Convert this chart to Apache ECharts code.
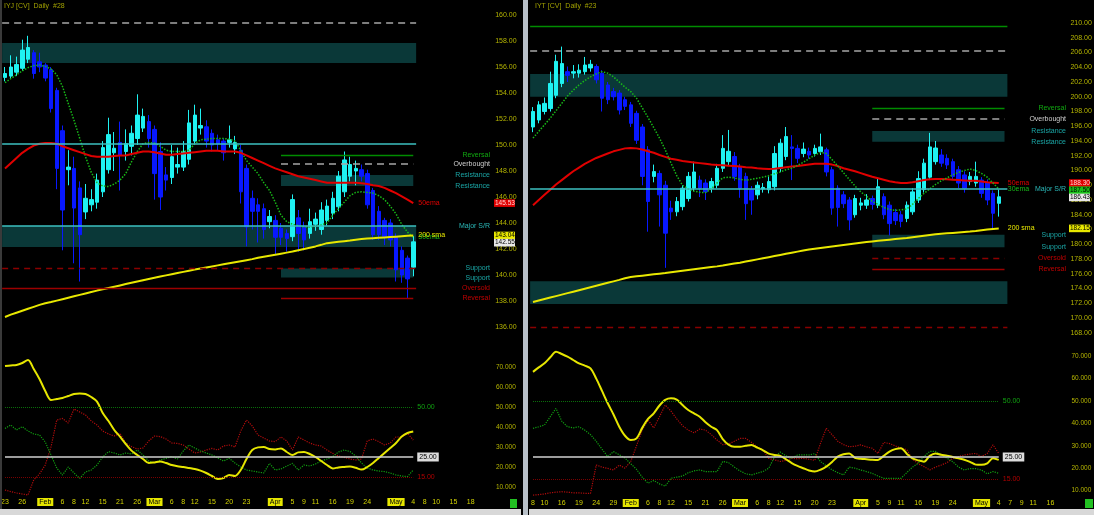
<!DOCTYPE html>
<html><head><meta charset="utf-8">
<script src="https://cdn.jsdelivr.net/npm/echarts/dist/echarts.min.js"></script>
<style>html,body{margin:0;padding:0;background:#000;overflow:hidden}#c{width:1094px;height:515px}</style>
</head><body><div id="c"></div>
<script>
// ---------------- DATA ----------------
const leftTitle = 'IYJ [CV]  Daily  #28';
const rightTitle = 'IYT [CV]  Daily  #23';

const leftDates = ['01-23','01-24','01-25','01-26','01-29','01-30','01-31',
'02-01','02-02','02-05','02-06','02-07','02-08','02-09','02-12','02-13','02-14','02-15','02-16','02-20','02-21','02-22','02-23','02-26','02-27','02-28',
'03-01','03-02','03-05','03-06','03-07','03-08','03-09','03-12','03-13','03-14','03-15','03-16','03-19','03-20','03-21','03-22','03-23','03-26','03-27','03-28','03-29',
'04-02','04-03','04-04','04-05','04-06','04-09','04-10','04-11','04-12','04-13','04-16','04-17','04-18','04-19','04-20','04-23','04-24','04-25','04-26','04-27','04-30',
'05-01','05-02','05-03','05-04'];
const leftFutureDates = ['05-07','05-08','05-09','05-10','05-11','05-14','05-15','05-16','05-17','05-18','05-21','05-22','05-23','05-24','05-25','05-29','05-30'];
const rightEarlyDates = ['01-08','01-09','01-10','01-11','01-12','01-16','01-17','01-18','01-19','01-22'];
const rightFutureDates = ['05-07','05-08','05-09','05-10','05-11','05-14','05-15','05-16','05-17','05-18','05-21','05-22','05-23'];

const leftTickDates = ['01-23','01-26','02-01','02-06','02-08','02-12','02-15','02-21','02-26','03-01','03-06','03-08','03-12','03-15','03-20','03-23','04-02','04-05','04-09','04-11','04-16','04-19','04-24','05-01','05-04','05-08','05-10','05-15','05-18'];
const rightTickDates = ['01-08','01-10','01-16','01-19','01-24','01-29','02-01','02-06','02-08','02-12','02-15','02-21','02-26','03-01','03-06','03-08','03-12','03-15','03-20','03-23','04-02','04-05','04-09','04-11','04-16','04-19','04-24','05-01','05-04','05-08','05-10','05-14','05-17'];
const rightTickText = {'05-08':'7','05-10':'9','05-14':'11','05-17':'16'};
const monthTickNames = {'02-01':'Feb','03-01':'Mar','04-02':'Apr','05-01':'May'};

// OHLC rows: [open, high, low, close]
const leftOHLC = [
[155.2,156.0,154.9,155.5],[155.3,156.9,155.1,156.0],[155.6,156.8,155.3,156.2],[155.9,158.1,155.7,157.3],[156.6,158.4,156.3,157.5],
[157.1,157.3,155.1,155.5],[156.4,157.1,155.6,156.0],[156.15,156.3,154.9,155.15],[155.8,156.0,152.5,152.8],[154.2,154.4,146.6,148.2],
[151.1,151.5,141.9,145.0],[148.1,149.6,146.9,148.3],[148.2,149.1,140.9,145.15],[146.7,147.2,139.5,143.1],[144.85,147.0,144.3,145.9],
[145.4,146.6,144.9,145.8],[145.6,147.8,145.1,147.3],[146.4,150.3,146.0,149.8],[148.1,152.1,147.8,150.8],[149.4,151.0,148.0,149.75],
[150.2,151.8,146.5,149.2],[149.5,151.2,148.8,150.1],[149.9,151.5,149.2,150.9],[150.5,153.9,150.0,152.3],[151.3,152.8,151.0,152.2],
[151.8,152.3,149.8,150.5],[151.2,151.5,145.8,147.8],[149.5,150.2,145.0,146.0],[147.7,148.3,146.5,147.3],[147.5,150.0,147.0,149.1],
[148.3,149.8,147.8,148.5],[148.3,150.3,148.0,149.5],[148.9,152.7,148.5,151.7],[150.3,153.1,150.0,152.3],[151.3,152.8,150.8,151.5],
[151.4,151.9,149.8,150.3],[150.9,151.2,149.5,150.0],[150.4,150.8,149.6,150.1],[150.3,150.5,148.8,149.4],[150.2,151.5,149.8,150.4],
[149.7,150.7,149.3,150.2],[149.6,150.0,145.5,146.4],[148.2,148.5,142.2,143.7],[145.9,146.5,143.5,144.9],[145.4,145.9,142.5,144.9],
[145.1,145.5,142.8,143.5],[144.1,145.0,143.6,144.5],[144.2,144.6,141.6,142.9],[143.6,144.0,142.3,142.9],[143.2,143.5,141.8,142.8],
[142.95,146.2,142.6,145.8],[144.4,145.0,141.8,143.2],[143.7,144.1,141.9,142.7],[143.2,145.1,142.8,144.1],[143.9,144.8,143.4,144.3],
[143.5,145.6,143.1,145.0],[144.2,145.8,143.8,145.3],[144.75,146.4,144.3,145.9],[145.25,148.0,144.9,147.6],[146.4,149.5,146.0,148.85],
[147.6,149.1,147.2,148.5],[148.0,148.8,146.9,148.2],[148.1,148.5,147.2,147.6],[147.8,148.1,145.1,145.4],[146.5,146.7,142.7,143.1],
[144.9,145.3,142.7,143.1],[144.2,144.4,142.3,142.95],[144.0,144.3,142.2,142.7],[142.9,143.2,139.5,140.4],[141.9,142.2,139.4,140.0],
[141.3,141.5,138.2,139.7],[140.6,143.0,139.9,142.55]];

const leftEma50 = [148.2,148.6,149.0,149.4,149.7,149.95,150.1,150.15,150.15,150.1,
149.9,149.75,149.6,149.45,149.3,149.15,149.1,149.1,149.1,149.15,
149.2,149.2,149.3,149.4,149.5,149.5,149.45,149.35,149.25,149.25,
149.3,149.35,149.4,149.45,149.5,149.55,149.55,149.55,149.5,149.5,
149.5,149.4,149.2,149.0,148.8,148.6,148.4,148.2,148.05,147.9,
147.75,147.6,147.5,147.4,147.3,147.2,147.1,147.1,147.1,147.1,
147.1,147.1,147.05,147.0,146.9,146.85,146.7,146.5,146.3,146.05,
145.8,145.53];
const leftEma30 = [154.8,155.1,155.4,155.7,155.95,156.1,156.15,156.05,155.85,155.4,
154.5,153.2,151.9,150.5,149.1,147.9,147.1,146.85,146.8,147.0,
147.3,147.8,148.7,149.5,150.1,150.2,150.15,149.9,149.6,149.5,
149.5,149.5,149.6,150.1,150.4,150.45,150.5,150.5,150.5,150.45,
150.3,149.6,148.8,148.3,147.8,147.1,146.5,145.6,144.6,144.1,
143.9,143.8,143.7,143.7,143.75,143.85,144.0,144.6,145.1,145.6,
146.1,146.35,146.4,146.35,146.3,146.1,145.8,145.3,144.7,143.9,
143.3,142.9];
const leftSma200 = [136.77,136.95,137.1,137.25,137.4,137.55,137.7,137.82,137.92,138.03,
138.14,138.25,138.36,138.47,138.58,138.69,138.8,138.9,139.0,139.1,
139.2,139.3,139.4,139.5,139.6,139.7,139.79,139.88,139.97,140.06,
140.15,140.24,140.33,140.42,140.5,140.58,140.66,140.74,140.82,140.9,
140.98,141.06,141.14,141.22,141.32,141.4,141.48,141.56,141.64,141.72,
141.8,141.9,142.0,142.1,142.2,142.32,142.45,142.5,142.55,142.6,
142.65,142.72,142.76,142.8,142.83,142.86,142.89,142.92,142.95,142.98,
143.01,143.04];

const leftAdx = [70.5,70.8,71,72,73.5,69,64,58,53.5,54,
54.5,55.5,56.5,56.8,56.5,55,52.7,47,43,38.5,
35.2,31.5,28.2,26,24,22,22.3,22.7,22,21,
20.4,20,19.5,19,18.2,17,15.5,14,14.5,16,
15.5,18.5,24,28.5,29.8,30,29,28.8,29.3,27.5,
26,27.3,27.5,26.5,25,23,21,19.3,19.8,20,
20.2,19.6,18.7,20,22,24.5,27,29.5,32,35.2,
37,37.7];
const leftPlusDI = [39.3,41,38.5,40.2,38,36.5,36,32.5,26,19.5,
16,20,17,14.3,17.5,18.5,21,25,27.7,27,
26,27,26.5,28.5,26,23,22,23.5,24.3,25.2,
24,28,31,29.5,28,27,26,24.5,23,24.3,
22,20,18.5,18,17.5,17,21.8,18.5,19,20.5,
21.8,18.5,21,20.5,21.5,23,24,25.2,27.5,28.5,
27.7,25.5,22,19.5,18.5,18,17.7,17,16,15.5,
15.2,18.5];
const leftMinusDI = [8.5,7.7,7,6.5,6,13.5,16.5,21,30,43.5,
44.3,42,49,47.5,46,43,41,38,36.5,35.5,
36.8,32,30.2,29,29.5,33,35.5,35.2,34,32,
31.8,31,29,27,27.5,28.5,29.3,28.5,30.5,31,
30,38,43.5,40.5,36,34.5,33,32.7,35,33,
28.5,35,33.5,32,31,30.5,28.5,26.8,25.5,24.8,
24,23.5,24,33,34,32.7,31,32,35,35,
36.8,33.5];

const rightOHLC = [
[195.9,198.6,195.2,198.0],[196.85,199.4,196.4,198.9],[198.0,199.9,197.6,199.1],[198.4,203.4,198.0,201.8],[200.2,205.7,199.8,204.8],
[201.8,206.8,201.3,204.5],[203.4,204.1,202.0,202.9],[203.2,204.3,202.5,203.4],[203.2,204.4,202.6,203.6],[203.4,205.4,203.0,204.3],
[203.9,205.0,203.4,204.4],[204.1,204.4,201.8,202.3],[203.2,203.6,198.0,199.8],[201.6,202.0,199.0,199.6],[200.7,201.2,199.5,200.0],
[200.5,200.9,197.6,198.2],[199.6,200.0,198.2,198.7],[198.9,199.3,195.9,196.4],[197.75,198.1,193.6,194.1],[195.9,196.3,188.0,189.2],
[192.8,193.3,181.7,185.8],[189.2,190.8,188.4,189.85],[189.6,190.0,182.4,186.7],[188.0,188.6,176.8,181.5],[184.9,185.9,183.3,184.4],
[184.4,186.4,183.8,185.8],[185.1,188.0,184.6,187.6],[186.2,189.8,185.8,189.2],[187.6,191.2,187.2,189.8],[188.7,189.3,186.4,187.6],
[188.3,188.8,186.0,187.1],[187.6,189.0,187.0,188.5],[188.0,190.9,187.6,190.3],[190.3,194.8,189.8,193.0],[191.2,195.5,190.6,192.6],
[191.9,192.5,188.6,189.2],[190.5,190.9,186.3,187.6],[189.2,189.7,183.3,185.5],[187.4,187.9,184.0,186.0],[186.7,188.5,186.1,188.0],
[187.5,188.3,187.0,187.7],[187.4,189.2,186.9,188.5],[187.8,193.3,187.3,192.3],[190.3,194.3,189.8,193.7],[191.9,195.9,191.4,194.6],
[193.2,194.8,188.7,193.0],[193.0,193.5,191.0,191.65],[192.3,193.8,191.8,192.9],[192.6,193.1,191.6,192.1],[192.3,193.5,191.9,193.0],
[192.55,195.0,192.1,193.2],[192.8,193.1,189.2,189.8],[190.1,190.5,184.0,184.9],[187.6,188.0,182.4,185.0],[186.7,187.2,184.9,185.5],
[186.0,186.4,181.9,183.3],[184.0,186.7,183.6,186.2],[185.3,186.3,184.6,185.6],[185.3,186.8,184.8,186.0],[186.2,186.6,184.7,185.4],
[185.3,188.9,184.9,187.8],[186.45,186.9,183.4,184.0],[185.3,185.8,181.2,182.8],[184.3,184.8,182.6,183.2],[184.0,184.5,182.3,183.1],
[183.5,185.8,183.0,185.3],[184.4,187.6,184.0,187.1],[186.0,189.9,185.6,188.9],[187.4,191.6,187.0,191.0],[189.1,195.1,188.7,193.2],
[191.2,194.0,190.8,193.05],[192.1,192.9,190.5,191.0],[191.65,192.2,190.2,190.75],[191.2,191.6,188.7,189.2],[190.1,190.6,187.6,188.3],
[189.4,189.9,187.0,187.6],[188.5,189.8,188.0,189.2],[188.3,191.2,187.8,189.2],[188.7,189.1,186.3,186.9],[188.3,188.8,185.3,186.0],
[186.9,187.3,182.2,184.2],[185.55,187.4,183.75,186.43]];

const rightEma50 = [185.3,186.0,186.7,187.4,188.1,188.7,189.3,189.9,190.4,190.9,
191.3,191.7,192.0,192.3,192.6,192.8,193.0,193.05,193.0,192.85,
192.6,192.4,192.1,191.85,191.6,191.45,191.3,191.2,191.1,191.0,
190.9,190.8,190.75,190.7,190.65,190.6,190.55,190.45,190.4,190.3,
190.25,190.2,190.25,190.35,190.45,190.55,190.6,190.7,190.8,190.9,
190.9,190.9,190.8,190.6,190.3,190.1,189.9,189.65,189.4,189.15,
188.95,188.75,188.55,188.4,188.3,188.3,188.4,188.55,188.7,188.8,
188.85,188.85,188.8,188.75,188.7,188.65,188.6,188.6,188.5,188.4,
188.35,188.3];
const rightEma30 = [194.4,195.3,196.2,197.1,198.1,199.1,200.1,200.9,201.6,202.2,
202.7,203.1,203.4,203.2,202.7,202.0,201.3,200.7,199.8,198.5,
197.2,195.8,194.4,192.8,191.0,189.3,188.0,187.5,187.2,187.05,
187.0,187.5,188.3,189.0,189.1,189.0,188.8,188.7,188.8,188.95,
189.1,189.3,189.55,189.8,190.1,190.3,190.7,191.1,191.6,192.1,
192.45,192.3,191.5,190.6,189.7,188.8,187.9,187.1,186.5,185.8,
185.4,185.0,184.7,184.6,184.65,184.8,185.4,186.2,186.9,187.5,
188.1,188.6,189.0,189.4,189.75,190.0,190.2,190.0,189.6,189.1,
188.3,187.5];
const rightSma200 = [172.17,172.37,172.57,172.77,172.97,173.17,173.37,173.57,173.77,173.97,
174.17,174.37,174.57,174.77,174.97,175.17,175.4,175.56,175.65,175.74,
175.83,175.92,176.01,176.1,176.2,176.3,176.4,176.5,176.6,176.7,
176.8,176.9,177.0,177.12,177.25,177.38,177.5,177.65,177.8,177.95,
178.1,178.25,178.4,178.55,178.7,178.85,179.0,179.15,179.3,179.4,
179.5,179.6,179.7,179.8,179.9,180.0,180.1,180.2,180.3,180.38,
180.46,180.54,180.62,180.7,180.78,180.85,180.95,181.05,181.15,181.25,
181.35,181.42,181.48,181.54,181.6,181.66,181.72,181.8,181.9,182.0,
182.08,182.15];

const rightAdx = [63,65,66.8,69.5,72,71,69.8,68.3,66.8,65.8,
64.6,60,54.5,49,44,38.5,34.5,32.6,33.3,38,
42,44.5,48,50.5,51.2,50.6,48.2,46,44.5,43,
40.5,38.5,37,33,30.5,29.6,29.6,30,30.4,29.2,
28,26.5,25.9,25.5,24,22.3,21,20,19,18.5,
19.3,20.7,22.8,25.2,26.2,26.6,24.6,24.2,24,23.8,
23.7,25.5,27.4,28.5,28.9,26.5,24.4,23.5,22.9,25.5,
26.6,26,25.6,25,24.4,23.8,22.8,21.6,21.5,22.2,
24.4,23.7];
const rightPlusDI = [37.8,38.5,39.3,43,46.7,41,38.5,38,38.5,37,
35,32,28.5,25.2,27.4,26,24.5,22,19.5,16,
13.3,14.5,13,12,15.5,16,16.5,18,18.8,19.2,
18.5,18.5,18.5,23,22.5,20.5,18.8,17.5,17,17.8,
18.5,20,25,27.2,25.5,24.4,25.9,26,25.9,26.5,
23,21,19.3,18,17,20.5,20,19.2,18.5,17.7,
16.5,15.5,15.5,15.5,15.5,18,20.5,22.2,25.2,27.5,
27.5,25.9,24.5,22.9,20.5,19.2,19.8,19.8,19.2,17.5,
18.5,17.7];
const rightMinusDI = [8,8.2,8.5,9,9.3,9.5,9.3,9,9,8.8,
8.8,21.4,20.5,19.9,19.2,21.4,20,23,30,37,
41.5,38,43,48.2,45.5,42,39,37,35.8,37.5,
37,35,32.6,30.5,30.8,32,33.3,33.3,31.5,29.5,
28,24.4,23.7,23,23.5,24.4,24.2,24.4,24,23.5,
31.1,37.8,35,32,30.5,29.6,29.8,30.4,29.5,28.9,
26.6,31.5,31,30,28.9,28.3,24,22,20.7,19.2,
20.5,21.4,22.5,24.4,25.2,25.9,26.3,26.6,25.2,26.6,
30.4,26.6];

// horizontal levels (prices)
const leftFullBands = [[157.85,156.3],[143.77,142.15]];
const leftShortBands = [[147.7,146.85],[140.5,139.8]];
const leftGrayDashFull = [159.4];
const leftCyanFull = [150.08,143.77];
const leftRedDashFull = [140.54];
const leftRedSolidFull = [139.0];
const leftGreenShort = [149.23];
const leftGrayDashShort = [148.54];
const leftRedSolidShort = [138.2];
const leftLevelLabels = [['Reversal',149.23,'up'],['Overbought',148.54,'ob'],['Resistance',147.7,'sr'],['Resistance',146.85,'sr'],['Major S/R',143.77,'major'],['Support',140.5,'sr'],['Support',139.8,'sr'],['Oversold',139.0,'dn'],['Reversal',138.2,'dn']];

const rightFullBands = [[203.1,200.0],[175.0,171.9]];
const rightShortBands = [[195.35,193.9],[181.3,179.6]];
const rightGreenFull = [209.5];
const rightGrayDashFull = [206.2];
const rightCyanFull = [187.5];
const rightRedDashFull = [168.8];
const rightGreenShort = [198.5];
const rightGrayDashShort = [197.0];
const rightRedDashShort = [178.1];
const rightRedSolidShort = [176.6];
const rightLevelLabels = [['Reversal',198.5,'up'],['Overbought',197.0,'ob'],['Resistance',195.35,'sr'],['Resistance',193.9,'sr'],['Major S/R',187.5,'major'],['Support',181.3,'sr'],['Support',179.6,'sr'],['Oversold',178.1,'dn'],['Reversal',176.6,'dn']];

const indicatorLevels = [50, 25, 15];
const indicatorLevelText = ['50.00','25.00','15.00'];

// ---------------- BUILD ----------------
const FONT = 'Liberation Sans, DejaVu Sans, sans-serif';
const SLOT = 5.75;
const L0 = 5 - SLOT/2, R0 = 533 - SLOT/2;
const leftAllDates = leftDates.concat(leftFutureDates);
const rightDates = rightEarlyDates.concat(leftDates);
const rightMainDates = rightDates.concat(rightFutureDates.slice(0,1));
const rightAllDates = rightDates.concat(rightFutureDates);

const S = {
  grayDash:{color:'#a6a6a6',width:1.5,type:[7,5]},
  cyan:{color:'#3cc0c0',width:1.5,type:'solid'},
  redDash:{color:'#8a0000',width:1.3,type:[6,5]},
  redSolid:{color:'#9c0000',width:1.3,type:'solid'},
  green:{color:'#008c00',width:1.3,type:'solid'}
};
const BAND = '#0a3838';
const toCandle = rows => rows.map(r => [r[0], r[3], r[2], r[1]]);

function fullLines(vals, st){ return vals.map(v => ({yAxis:v, lineStyle:st})); }
function shortLines(vals, a, b, st){ return vals.map(v => [{coord:[a,v], lineStyle:st},{coord:[b,v]}]); }
function fullBands(arr){ return arr.map(b => [{yAxis:b[0]},{yAxis:b[1]}]); }
function shortBands(arr, a, b){ return arr.map(x => [{coord:[a,x[0]]},{coord:[b,x[1]]}]); }

function tickAxisLabel(tickDates, margin, textMap){
  const set = new Set(tickDates);
  return {
    inside:true, margin:margin, fontSize:7, color:'#d4d400', fontFamily:FONT,
    interval:(i,v)=>set.has(v), hideOverlap:false,
    formatter:(v)=> monthTickNames[v] ? '{m|'+monthTickNames[v]+'}' : ((textMap && textMap[v]) || String(parseInt(v.slice(3),10))),
    rich:{m:{backgroundColor:'#e6e600',color:'#000',padding:[1,2,0,2],fontSize:7,fontFamily:FONT}}
  };
}
const hidden = {show:false};
function mainY(grid, min, max, margin){
  return {type:'value', gridIndex:grid, min:min, max:max, interval:2, position:'right',
    axisLine:hidden, axisTick:hidden, splitLine:hidden,
    axisLabel:{margin:margin, fontSize:7, color:'#b4b400', fontFamily:FONT, showMinLabel:false, showMaxLabel:false, formatter:v=>v.toFixed(2)}};
}
function indY(grid, offset){
  return {type:'value', gridIndex:grid, min:0, max:80, interval:10, position:'right', offset:offset,
    axisLine:hidden, axisTick:hidden, splitLine:hidden,
    axisLabel:{margin:0, fontSize:6.5, color:'#b4b400', fontFamily:FONT, showMinLabel:false, showMaxLabel:false, formatter:v=>v.toFixed(3)}};
}
function lineSeries(x, y, data, color, width, type, z, endText, endDist){
  const s = {type:'line', xAxisIndex:x, yAxisIndex:y, data:data, symbol:'none', z:z, silent:true,
    lineStyle:{color:color, width:width, type:type}, emphasis:{disabled:true}};
  if (endText) s.endLabel = {show:true, formatter:endText, color:color, fontSize:7, fontFamily:FONT, distance:endDist};
  return s;
}
function indLevelLines(lastIdx){
  const styles = [{color:'#0a6e0a',width:1,type:'dotted'},{color:'#d0d0d0',width:1.5,type:'solid'},{color:'#7a0000',width:1,type:'dotted'}];
  const labels = [{color:'#10a010'},{color:'#000',backgroundColor:'#dcdcdc',padding:[1,2]},{color:'#b00000'}];
  return indicatorLevels.map((v,k)=>[{coord:[0,v], lineStyle:styles[k],
    label:Object.assign({show:true, position:'end', formatter:indicatorLevelText[k], fontSize:7, fontFamily:FONT, distance:4}, labels[k])},
    {coord:[lastIdx,v]}]);
}
function markerSeries(x, y, z, extra){
  return Object.assign({type:'line', xAxisIndex:x, yAxisIndex:y, data:[], z:z, silent:true, symbol:'none'}, extra);
}
const mlBase = {silent:true, symbol:['none','none'], label:{show:false}, animation:false, emphasis:{disabled:true}};

const candleStyle = {color:'#1ff2f2', color0:'#0818ff', borderColor:'#1ff2f2', borderColor0:'#0818ff', borderWidth:1};

const option = {
  backgroundColor:'#000',
  animation:false,
  grid:[
    {left:L0, top:2, width:leftDates.length*SLOT, height:(161-134)*13, containLabel:false, outerBoundsMode:'none'},
    {left:L0, top:347, width:leftAllDates.length*SLOT, height:160, containLabel:false, outerBoundsMode:'none'},
    {left:R0, top:23-7.375, width:rightMainDates.length*SLOT, height:45*7.375, containLabel:false, outerBoundsMode:'none'},
    {left:R0, top:513-80*2.24, width:rightAllDates.length*SLOT, height:80*2.24, containLabel:false, outerBoundsMode:'none'}
  ],
  xAxis:[
    {type:'category', gridIndex:0, data:leftDates, show:false},
    {type:'category', gridIndex:1, data:leftAllDates, axisLine:hidden, axisTick:hidden, splitLine:hidden, axisLabel:tickAxisLabel(leftTickDates,1,null)},
    {type:'category', gridIndex:2, data:rightMainDates, show:false},
    {type:'category', gridIndex:3, data:rightAllDates, axisLine:hidden, axisTick:hidden, splitLine:hidden, axisLabel:tickAxisLabel(rightTickDates,6,rightTickText)}
  ],
  yAxis:[ mainY(0,134,161,79), indY(1,-18), mainY(2,166,211,63), indY(3,-5) ],
  series:[
    // ----- left main -----
    markerSeries(0,0,1,{markArea:{silent:true, itemStyle:{color:BAND}, animation:false,
      data:fullBands(leftFullBands).concat(shortBands(leftShortBands,48,71))}}),
    markerSeries(0,0,2,{markLine:Object.assign({}, mlBase, {data:[].concat(
      fullLines(leftGrayDashFull,S.grayDash), fullLines(leftCyanFull,S.cyan), fullLines(leftRedDashFull,S.redDash), fullLines(leftRedSolidFull,S.redSolid),
      shortLines(leftGreenShort,48,71,S.green), shortLines(leftGrayDashShort,48,71,S.grayDash), shortLines(leftRedSolidShort,48,71,S.redSolid))})}),
    {type:'candlestick', xAxisIndex:0, yAxisIndex:0, data:toCandle(leftOHLC), barWidth:4, z:3, silent:true, itemStyle:candleStyle},
    lineSeries(0,0,leftEma30,'#18b818',1.5,'dotted',4,'30ema',5),
    lineSeries(0,0,leftSma200,'#e8e800',2,'solid',4,'200 sma',5),
    lineSeries(0,0,leftEma50,'#e00000',2,'solid',4,'50ema',5),
    // ----- left indicator -----
    markerSeries(1,1,2,{markLine:Object.assign({}, mlBase, {data:indLevelLines(leftDates.length-1)})}),
    lineSeries(1,1,leftMinusDI,'#b00c0c',1.2,'dotted',3,null,0),
    lineSeries(1,1,leftPlusDI,'#10a010',1.2,'dotted',3,null,0),
    Object.assign(lineSeries(1,1,leftAdx,'#e6e600',2,'solid',4,null,0),{smooth:0.3}),
    // ----- right main -----
    markerSeries(2,2,1,{markArea:{silent:true, itemStyle:{color:BAND}, animation:false,
      data:fullBands(rightFullBands).concat(shortBands(rightShortBands,59,82))}}),
    markerSeries(2,2,2,{markLine:Object.assign({}, mlBase, {data:[].concat(
      fullLines(rightGreenFull,S.green), fullLines(rightGrayDashFull,S.grayDash), fullLines(rightCyanFull,S.cyan), fullLines(rightRedDashFull,S.redDash),
      shortLines(rightGreenShort,59,82,S.green), shortLines(rightGrayDashShort,59,82,S.grayDash), shortLines(rightRedDashShort,59,82,S.redDash), shortLines(rightRedSolidShort,59,82,S.redSolid))})}),
    {type:'candlestick', xAxisIndex:2, yAxisIndex:2, data:toCandle(rightOHLC), barWidth:4, z:3, silent:true, itemStyle:candleStyle},
    lineSeries(2,2,rightSma200,'#e8e800',2,'solid',4,'200 sma',9),
    lineSeries(2,2,rightEma50,'#e00000',2,'solid',4,'50ema',9),
    lineSeries(2,2,rightEma30,'#18b818',1.5,'dotted',4,'30ema',9),
    // ----- right indicator -----
    markerSeries(3,3,2,{markLine:Object.assign({}, mlBase, {data:indLevelLines(rightDates.length-1)})}),
    lineSeries(3,3,rightMinusDI,'#b00c0c',1.2,'dotted',3,null,0),
    lineSeries(3,3,rightPlusDI,'#10a010',1.2,'dotted',3,null,0),
    Object.assign(lineSeries(3,3,rightAdx,'#e6e600',2,'solid',4,null,0),{smooth:0.3})
  ]
};

const chart = echarts.init(document.getElementById('c'), null, {renderer:'canvas', width:1094, height:515});
chart.setOption(option);

// ---------------- side texts & price boxes (positions from the axes) ----------------
const kindColor = {up:'#10a810', ob:'#cfcfcf', sr:'#1aa6a6', major:'#2ab8b8', dn:'#c00000'};
function txt(x, y, text, color, align, size){
  return {type:'text', x:x, y:y, z:50, silent:true,
    style:{text:text, fill:color, font:(size||7)+'px '+FONT, align:align, textAlign:align, verticalAlign:'middle', textVerticalAlign:'middle'}};
}
function rect(x, y, w, h, fill, z){ return {type:'rect', shape:{x:x,y:y,width:w,height:h}, style:{fill:fill}, z:z||40, silent:true}; }

const graphics = [];
graphics.push(txt(4, 6, leftTitle, '#a0a000', 'left', 7));
graphics.push(txt(535, 6, rightTitle, '#a0a000', 'left', 7));
graphics.push(rect(0,0,2,515,'#3a3a3a'));
graphics.push(rect(523,0,5,515,'#b8c0c8'));
graphics.push(rect(0,509,521,6,'#d8d8d8'));
graphics.push(rect(529,509,565,6,'#d8d8d8'));
graphics.push(rect(510,499,7,9,'#22c022'));
graphics.push(rect(1085,499,8,9,'#22c022'));

function addLevelLabels(yIdx, xRight, list){
  list.forEach(l => {
    const y = chart.convertToPixel({yAxisIndex:yIdx}, l[1]);
    graphics.push(txt(xRight, y, l[0], kindColor[l[2]], 'right', 7));
  });
}
addLevelLabels(0, 490, leftLevelLabels);
addLevelLabels(2, 1066, rightLevelLabels);

function addBoxes(yIdx, x, items){
  const pts = items.map(it => Object.assign({y:chart.convertToPixel({yAxisIndex:yIdx}, it.v)}, it)).sort((a,b)=>a.y-b.y);
  for (let k=1;k<pts.length;k++) if (pts[k].y < pts[k-1].y + 7.2) pts[k].y = pts[k-1].y + 7.2;
  pts.forEach(p => {
    graphics.push(rect(x-1, p.y-3.8, 21, 7.6, p.bg, 45));
    graphics.push(txt(x, p.y, p.v.toFixed(2), p.fg, 'left', 6.5));
  });
}
addBoxes(0, 495, [
  {v:leftEma50[leftEma50.length-1], bg:'#e00000', fg:'#ffd0d0'},
  {v:leftSma200[leftSma200.length-1], bg:'#e8e800', fg:'#000'},
  {v:leftOHLC[leftOHLC.length-1][3], bg:'#e8e8e8', fg:'#000'}
]);
addBoxes(2, 1070, [
  {v:rightEma50[rightEma50.length-1], bg:'#e00000', fg:'#ffd0d0'},
  {v:rightEma30[rightEma30.length-1], bg:'#18c018', fg:'#000'},
  {v:rightOHLC[rightOHLC.length-1][3], bg:'#e8e8e8', fg:'#000'},
  {v:rightSma200[rightSma200.length-1], bg:'#e8e800', fg:'#000'}
]);
chart.setOption({graphic:graphics});
</script></body></html>
